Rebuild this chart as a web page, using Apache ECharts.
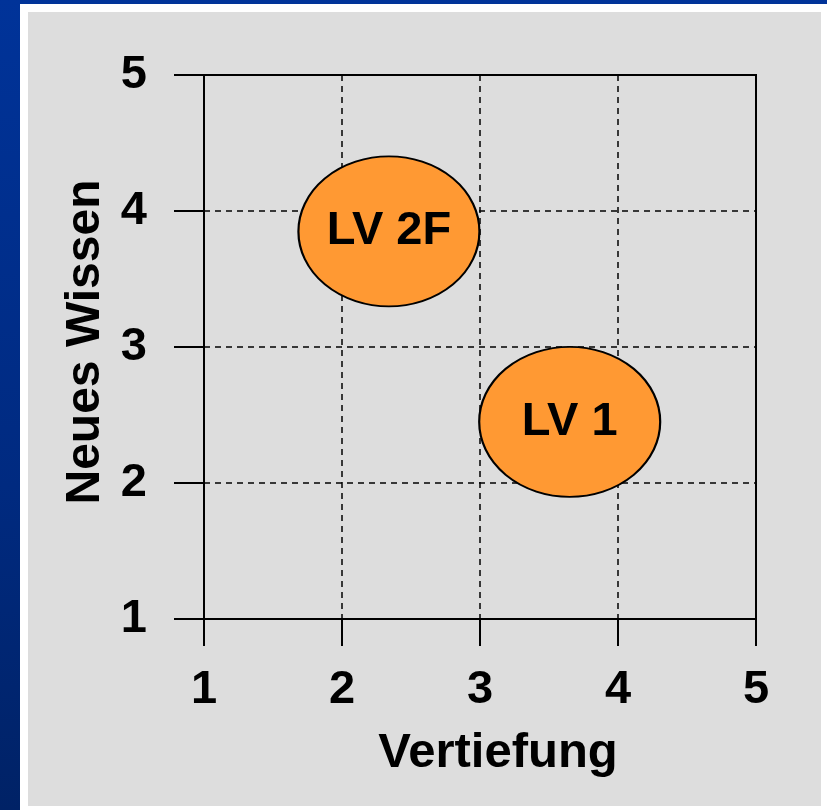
<!DOCTYPE html>
<html>
<head>
<meta charset="utf-8">
<script src="https://cdn.jsdelivr.net/npm/echarts@6/dist/echarts.min.js"></script>
<style>
  html, body { margin: 0; padding: 0; }
  body { width: 827px; height: 810px; background: linear-gradient(to bottom, #003399 0%, #002a80 60%, #002266 100%); }
  #main { position: absolute; left: 0; top: 0; width: 827px; height: 810px; }
</style>
</head>
<body>
<div id="main"></div>
<script>
var names = ['LV 2F', 'LV 1'];
var vertiefung = [2.34, 3.65];
var neuesWissen = [3.85, 2.45];
var ticks = [1, 2, 3, 4, 5];

var chartDom = document.getElementById('main');
var myChart = echarts.init(chartDom);
var option;

var font = '"Liberation Sans", Arial, sans-serif';

option = {
  animation: false,
  graphic: [
    { type: 'rect', z: -10, shape: { x: 20, y: 4, width: 807, height: 806 }, style: { fill: '#ffffff' } },
    { type: 'rect', z: -9, shape: { x: 28, y: 12, width: 793, height: 794 }, style: { fill: '#dddddd' } }
  ],
  grid: {
    left: 204,
    right: 71,
    top: 75,
    bottom: 191,
    show: true,
    borderColor: '#000',
    borderWidth: 2,
    backgroundColor: 'transparent'
  },
  xAxis: {
    type: 'value',
    min: ticks[0],
    max: ticks[ticks.length - 1],
    interval: 1,
    name: 'Vertiefung',
    nameLocation: 'middle',
    nameGap: 110,
    nameTextStyle: { fontFamily: font, fontSize: 49, fontWeight: 'bold', color: '#000', padding: [0, 0, 0, 36] },
    axisLine: { lineStyle: { color: '#000', width: 2 } },
    axisTick: { length: 27, lineStyle: { color: '#000', width: 2 } },
    axisLabel: { fontFamily: font, fontSize: 47, fontWeight: 'bold', color: '#000', margin: 48 },
    splitLine: { show: true, lineStyle: { color: '#000', width: 1.5, type: [6, 5] } }
  },
  yAxis: {
    type: 'value',
    min: ticks[0],
    max: ticks[ticks.length - 1],
    interval: 1,
    name: 'Neues Wissen',
    nameLocation: 'middle',
    nameGap: 92,
    nameTextStyle: { fontFamily: font, fontSize: 48, fontWeight: 'bold', color: '#000', padding: [0, 0, 0, 10] },
    axisLine: { lineStyle: { color: '#000', width: 2 } },
    axisTick: { length: 30, lineStyle: { color: '#000', width: 2 } },
    axisLabel: { fontFamily: font, fontSize: 47, fontWeight: 'bold', color: '#000', margin: 57 },
    splitLine: { show: true, lineStyle: { color: '#000', width: 1.5, type: [6, 5] } }
  },
  series: [
    {
      type: 'scatter',
      symbol: 'circle',
      symbolSize: [181, 150],
      data: vertiefung.map(function (v, i) { return { name: names[i], value: [v, neuesWissen[i]] }; }),
      itemStyle: { color: '#ff9933', borderColor: '#000', borderWidth: 2, opacity: 1 },
      label: {
        show: true,
        position: 'inside',
        formatter: '{b}',
        fontFamily: font,
        fontSize: 47,
        fontWeight: 'bold',
        color: '#000'
      },
      emphasis: { disabled: true }
    }
  ]
};

option && myChart.setOption(option);
</script>
</body>
</html>
